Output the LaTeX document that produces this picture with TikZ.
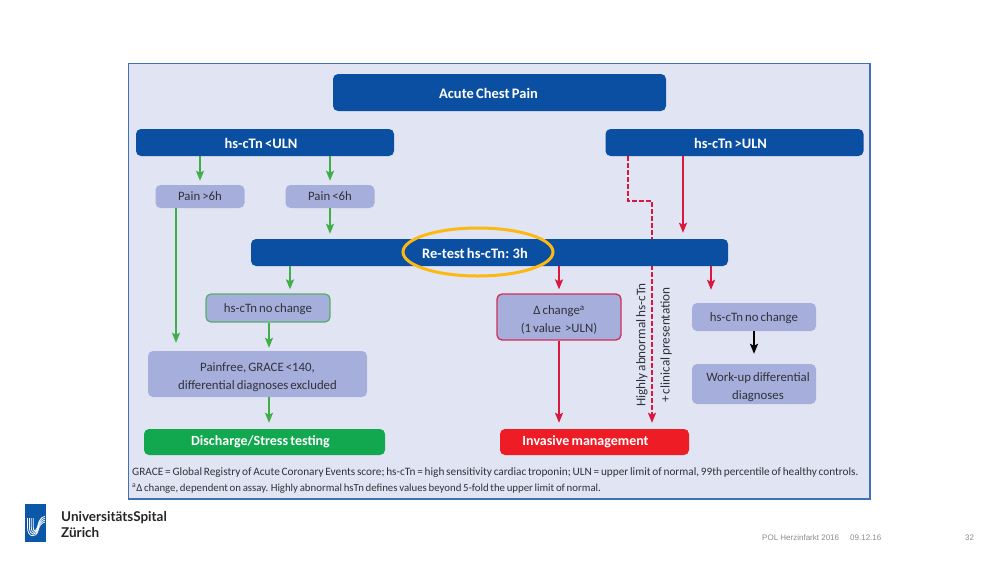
\documentclass[tikz,border=0pt]{standalone}
\usepackage{fontspec}
\setmainfont[WordSpace=0.7]{Carlito}
\newfontfamily\footerfont{Liberation Sans}
\newfontfamily\logofont{Lato}
\usetikzlibrary{arrows.meta,calc,shapes.geometric}
\definecolor{navy}{HTML}{0B4FA2}
\definecolor{panel}{HTML}{E1E4F2}
\definecolor{frameblue}{HTML}{3F72B5}
\definecolor{lilac}{HTML}{A6AEDB}
\definecolor{gline}{HTML}{3FAE49}
\definecolor{gbox}{HTML}{12A84F}
\definecolor{rline}{HTML}{D9173F}
\definecolor{rbox}{HTML}{EE1C25}
\definecolor{ink}{HTML}{30323A}
\definecolor{gold}{HTML}{FDB913}
\newcommand{\liftone}{\rule{0pt}{11.6pt}}
\newcommand{\liftnavy}{\rule{0pt}{13pt}}
\newcommand{\lifttwo}{\rule{0pt}{14.5pt}}
\tikzset{
  boxbase/.style={rounded corners=5pt,inner sep=0pt,align=center,font=\fontsize{12.8}{18}\selectfont},
  navybox/.style={boxbase,fill=navy,text=white,font=\fontsize{14.5}{16}\bfseries\selectfont},
  lilacbox/.style={boxbase,fill=lilac,text=ink},
  gbar/.style={boxbase,fill=gbox,text=white,font=\fontsize{14}{16}\bfseries\selectfont},
  rbar/.style={boxbase,fill=rbox,text=white,font=\fontsize{14}{16}\bfseries\selectfont},
  garrow/.style={draw=gline,line width=1.7pt,-{Stealth[length=10pt,width=8pt,inset=2pt]}},
  rarrow/.style={draw=rline,line width=1.7pt,-{Stealth[length=10pt,width=8pt,inset=2pt]}},
  karrow/.style={draw=black,line width=1.7pt,-{Stealth[length=10pt,width=8pt,inset=2pt]}},
  sidetext/.style={rotate=90,text=ink,inner sep=0pt,font=\fontsize{13.2}{15}\selectfont},
  notetext/.style={anchor=west,text=ink,inner sep=0pt},
  foot/.style={inner sep=0pt,text=black!45,font=\footerfont\fontsize{8}{10}\selectfont},
  logotext/.style={anchor=west,inner sep=0pt,text=black!85,font=\logofont\fontsize{13.5}{15}\bfseries\selectfont},
}
\begin{document}
\begin{tikzpicture}[x=1pt,y=-1pt]
\path[use as bounding box,fill=white] (0,0) rectangle (1000,563);
\draw[frameblue,fill=panel,line width=1.2pt] (128.5,63.5) rectangle (870,499);

% x positions
\coordinate (xa) at (176,0);
\coordinate (xb) at (290,0);
\coordinate (xc) at (269,0);
\coordinate (xd) at (559,0);
\coordinate (xe) at (628,0);
\coordinate (xf) at (652,0);
\coordinate (xg) at (683,0);
\coordinate (xh) at (711,0);
\coordinate (kink) at (628,201);
\coordinate (kinkb) at (652,201);

% dashed route passes behind the re-test bar
\node[rbar,minimum width=189pt,minimum height=26pt] (invasive) at (594.5,442) {\hspace*{-18pt}Invasive management};
\draw[rarrow,dash pattern=on 4.5pt off 2.5pt,shorten >=6pt]
  (628,156) -- (kink) -- (kinkb) -- (invasive.north -| xf);

\node[navybox,minimum width=333pt,minimum height=37pt] (acute) at (499.5,92.5) {\hspace*{-22pt}\liftnavy Acute Chest Pain};
\node[navybox,minimum width=258pt,minimum height=27pt] (low) at (265,142.5) {\hspace*{-8pt}\liftnavy hs-cTn <ULN};
\node[navybox,minimum width=258pt,minimum height=27pt] (high) at (734.5,142.5) {\hspace*{-8pt}\liftnavy hs-cTn >ULN};
\node[lilacbox,minimum width=89pt,minimum height=23pt] (painhi) at (200,196.5) {Pain >6h};
\node[lilacbox,minimum width=89pt,minimum height=23pt] (painlo) at (330,196.5) {Pain <6h};
\node[navybox,minimum width=477pt,minimum height=27pt] (retest) at (489.5,252.5) {\hspace*{-29pt}\liftnavy Re-test hs-cTn: 3h};
\node[draw=gold,line width=3pt,ellipse,minimum width=150pt,minimum height=48pt,inner sep=0pt] (ring) at (478,252) {};

\node[lilacbox,draw=gline!75!lilac,line width=1.3pt,minimum width=124pt,minimum height=28pt] (nochangeg) at (268,308) {\liftone hs-cTn no change};
\node[lilacbox,minimum width=219pt,minimum height=46pt] (painfree) at (257.5,374) {\lifttwo Painfree, GRACE <140,\\differential diagnoses excluded};
\node[gbar,minimum width=241pt,minimum height=26pt] (discharge) at (264.5,442) {\hspace*{-8pt}Discharge/Stress testing};
\node[lilacbox,draw=rline!85!lilac,line width=1.3pt,minimum width=124pt,minimum height=46pt] (delta) at (559,317) {\lifttwo Δ change\textsuperscript{a}\\(1 value \ >ULN)};
\node[lilacbox,minimum width=124pt,minimum height=28pt] (nochanger) at (754,317) {\liftone hs-cTn no change};
\node[lilacbox,minimum width=124pt,minimum height=40pt] (workup) at (754,384) {\hspace*{8pt}\lifttwo Work-up differential\\\hspace*{8pt}diagnoses};

\node[sidetext] (sidea) at (642,345) {Highly abnormal hs-cTn};
\node[sidetext] (sideb) at (666,345) {+ clinical presentation};

\node[notetext,font=\fontsize{11.27}{14}\selectfont] (notea) at (132,473) {GRACE = Global Registry of Acute Coronary Events score; hs-cTn = high sensitivity cardiac troponin; ULN = upper limit of normal, 99th percentile of healthy controls.};
\node[notetext,font=\fontsize{10.8}{14}\selectfont] (noteb) at (132,488.5) {\textsuperscript{a}Δ change, dependent on assay. Highly abnormal hsTn defines values beyond 5-fold the upper limit of normal.};

% connectors
\draw[garrow,shorten >=4pt] (low.south -| painhi) -- (painhi.north);
\draw[garrow,shorten >=4pt] (low.south -| painlo) -- (painlo.north);
\draw[garrow,shorten >=5pt] (painlo.south) -- (retest.north -| painlo);
\draw[garrow,shorten >=8pt] (painhi.south -| xa) -- (painfree.north -| xa);
\draw[garrow,shorten >=4pt] (retest.south -| xb) -- (nochangeg.north -| xb);
\draw[garrow,shorten >=3pt] (nochangeg.south -| xc) -- (painfree.north -| xc);
\draw[garrow,shorten >=6pt] (painfree.south -| xc) -- (discharge.north -| xc);
\draw[rarrow,shorten >=4pt] (retest.south -| xd) -- (delta.north -| xd);
\draw[rarrow,shorten >=6pt] (delta.south -| xd) -- (invasive.north -| xd);
\draw[rarrow,shorten >=6pt] (high.south -| xg) -- (retest.north -| xg);
\draw[rarrow,shorten >=13pt] (retest.south -| xh) -- (nochanger.north -| xh);
\draw[karrow,shorten >=10pt] (nochanger.south) -- (workup.north);

% logo
\fill[navy!95!cyan] (25,504) rectangle (46,542);
\begin{scope}
\clip (25,504) rectangle (46,542);
\foreach \d in {0,1.9,3.8,5.7}{
  \draw[white,line width=0.8pt] (27.5+\d,518) -- (27.5+\d,527) .. controls (27.5+\d,538-\d) and (36,538-\d) .. (38,531-\d) .. controls (39,526-\d) and (41,523-\d) .. (45,522-\d);
}
\end{scope}
\node[logotext] (usz) at (61,517.5) {UniversitätsSpital};
\node[logotext] (zh) at (61,532.5) {Zürich};

% footer
\node[foot,anchor=west] (fa) at (762,538) {POL Herzinfarkt 2016};
\node[foot,anchor=west] (fb) at (850,538) {09.12.16};
\node[foot,anchor=west] (fc) at (965,538) {32};
\end{tikzpicture}
\end{document}
